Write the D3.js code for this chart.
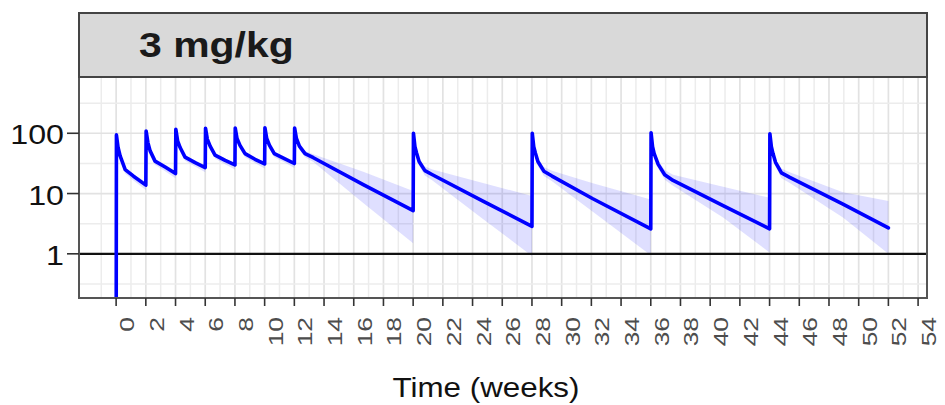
<!DOCTYPE html>
<html>
<head>
<meta charset="utf-8">
<script src="https://cdn.jsdelivr.net/npm/d3@7"></script>
<style>
  html, body { margin: 0; padding: 0; background: #fff; }
  svg { display: block; }
  text { font-family: "Liberation Sans", Arial, sans-serif; }
</style>
</head>
<body>
<svg id="chart" width="945" height="405"></svg>
<script>
// ---------------- data ----------------
const panelLabel = "3 mg/kg";
const xTitle = "Time (weeks)";

const weeks = [
  0, 0.02, 0.13, 0.27, 0.61, 1.17, 2.0,
  2.02, 2.14, 2.29, 2.62, 3.3, 4.0,
  4.02, 4.14, 4.31, 4.64, 5.32, 6.0,
  6.02, 6.14, 6.33, 6.66, 7.34, 8.0,
  8.02, 8.14, 8.34, 8.68, 9.35, 10.0,
  10.02, 10.14, 10.32, 10.65, 11.33, 12.0,
  12.02, 12.14, 12.34, 12.72, 13.28, 16.64, 20.0,
  20.02, 20.12, 20.23, 20.4, 20.79, 21.3, 24.7, 28.0,
  28.02, 28.12, 28.23, 28.4, 28.8, 29.35, 32.1, 36.0,
  36.02, 36.12, 36.23, 36.5, 36.94, 37.5, 40.87, 44.0,
  44.02, 44.12, 44.23, 44.4, 44.8, 45.36, 48.94, 52.0
];
const median = [
  0.01, 94, 58, 42, 25, 19.4, 13.8,
  109, 70, 51, 34.5, 27.5, 21.5,
  116, 75, 58, 40.3, 32.5, 27,
  121, 80, 61, 43.5, 35.5, 29.8,
  122, 82, 63, 46, 37, 31,
  123, 82, 63.5, 46, 38, 31.5,
  122, 82, 61, 46, 39.3, 14.1, 5.2,
  100, 60, 47, 34, 24, 20.5, 7.5, 2.85,
  100, 60, 47, 34, 23.5, 19.5, 8.2, 2.6,
  102, 60, 46, 30.5, 20.5, 16.5, 6.3, 2.6,
  98, 60, 46, 33, 22, 18.5, 6.7, 2.7
];
const lower = [
  0.01, 86, 52, 37, 21.5, 16.5, 11.5,
  100, 63, 45, 30, 23.5, 18,
  107, 67, 51, 35, 28, 22.5,
  112, 72, 54, 38, 30.5, 25,
  113, 74, 56, 40, 32, 26,
  114, 74, 56, 40, 33, 26.5,
  113, 74, 54, 40, 33.5, 7.0, 1.5,
  92, 53, 41, 29, 20, 16.5, 3.8, 0.92,
  92, 53, 41, 29, 19.5, 16, 5.0, 0.95,
  94, 53, 40, 26, 17, 13.5, 4.0, 1.05,
  90, 53, 40, 28, 18, 15, 4.0, 1.0
];
const upper = [
  0.01, 100, 62, 45, 27, 21, 15.5,
  116, 75, 55, 37, 30, 23.5,
  124, 80, 62, 43, 35, 29,
  128, 86, 66, 47, 38, 32,
  129, 88, 68, 50, 40, 33.5,
  130, 88, 68, 50, 41, 34,
  130, 90, 67, 51, 45, 23, 11,
  108, 66, 52, 38, 28, 25, 15, 9.1,
  108, 66, 52, 38, 27.5, 24, 14.8, 8.0,
  110, 66, 51, 35, 24.5, 20.5, 13, 8.5,
  106, 66, 51, 37, 26, 22.5, 10.5, 7.5
];

const xTickValues = [0,2,4,6,8,10,12,14,16,18,20,22,24,26,28,30,32,34,36,38,40,42,44,46,48,50,52,54];
const xMinorValues = [-1,1,3,5,7,9,11,13,15,17,19,21,23,25,27,29,31,33,35,37,39,41,43,45,47,49,51,53];
const yTickValues = [1, 10, 100];
const yTickLabels = ["1", "10", "100"];
const yMinorValues = [0.316, 3.16, 31.6, 316];
const refLine = 1;

// ---------------- layout ----------------
const L = 79, R = 927, stripTop = 13, stripBot = 77, T = 77, B = 298;

const svg = d3.select("#chart");
const x = d3.scaleLinear().domain([-2.5, 54.6]).range([L, R]);
const y = d3.scaleLog().domain([0.185, 858]).range([B, T]);

// panel background
svg.append("rect").attr("x", L).attr("y", T).attr("width", R - L).attr("height", B - T)
  .attr("fill", "#fff");

// grid
const grid = svg.append("g");
grid.selectAll(".vmin").data(xMinorValues).join("line")
  .attr("x1", d => x(d)).attr("x2", d => x(d)).attr("y1", T).attr("y2", B)
  .attr("stroke", "#ececec").attr("stroke-width", 1.5);
grid.selectAll(".vmaj").data(xTickValues.filter(d => x(d) < R)).join("line")
  .attr("x1", d => x(d)).attr("x2", d => x(d)).attr("y1", T).attr("y2", B)
  .attr("stroke", "#e2e2e2").attr("stroke-width", 1.7);
grid.selectAll(".hmin").data(yMinorValues).join("line")
  .attr("x1", L).attr("x2", R).attr("y1", d => y(d)).attr("y2", d => y(d))
  .attr("stroke", "#ececec").attr("stroke-width", 1.5);
grid.selectAll(".hmaj").data(yTickValues).join("line")
  .attr("x1", L).attr("x2", R).attr("y1", d => y(d)).attr("y2", d => y(d))
  .attr("stroke", "#e2e2e2").attr("stroke-width", 1.7);

// clip
svg.append("clipPath").attr("id", "clip").append("rect")
  .attr("x", L).attr("y", T).attr("width", R - L).attr("height", B - T);

const rows = weeks.map((w, i) => ({ w, m: median[i], lo: lower[i], hi: upper[i] }));

const plot = svg.append("g").attr("clip-path", "url(#clip)");

// ribbon
plot.append("path").datum(rows)
  .attr("fill", "rgba(40,40,255,0.15)")
  .attr("d", d3.area().x(d => x(d.w)).y0(d => y(d.lo)).y1(d => y(d.hi)));

// reference line at 1
plot.append("line").attr("x1", L).attr("x2", R)
  .attr("y1", y(refLine)).attr("y2", y(refLine))
  .attr("stroke", "#111").attr("stroke-width", 2.4);

// median line
plot.append("path").datum(rows)
  .attr("fill", "none").attr("stroke", "#0000ff").attr("stroke-width", 3.6)
  .attr("stroke-linejoin", "round").attr("stroke-linecap", "round")
  .attr("d", d3.line().x(d => x(d.w)).y(d => y(d.m)));

// panel border
svg.append("rect").attr("x", L).attr("y", T).attr("width", R - L).attr("height", B - T)
  .attr("fill", "none").attr("stroke", "#555").attr("stroke-width", 2);

// strip
svg.append("rect").attr("x", L).attr("y", stripTop).attr("width", R - L).attr("height", stripBot - stripTop)
  .attr("fill", "#d9d9d9").attr("stroke", "#444").attr("stroke-width", 2);
svg.append("text").attr("transform", "translate(139,57) scale(1.17,1)")
  .attr("font-size", 35).attr("font-weight", "bold").attr("fill", "#1a1a1a")
  .text(panelLabel);

// y axis
const yAxis = svg.append("g");
yAxis.selectAll("line").data(yTickValues).join("line")
  .attr("x1", L - 12).attr("x2", L).attr("y1", d => y(d)).attr("y2", d => y(d))
  .attr("stroke", "#333").attr("stroke-width", 1.6);
yAxis.selectAll("text").data(yTickValues).join("text")
  .attr("transform", d => `translate(64,${y(d) + 11}) scale(1.15,1)`)
  .attr("text-anchor", "end").attr("font-size", 28).attr("fill", "#111")
  .text((d, i) => yTickLabels[i]);

// x axis
const xAxis = svg.append("g");
xAxis.selectAll("line").data(xTickValues).join("line")
  .attr("x1", d => x(d)).attr("x2", d => x(d)).attr("y1", B).attr("y2", B + 8)
  .attr("stroke", "#333").attr("stroke-width", 1.6);
xAxis.selectAll("text").data(xTickValues).join("text")
  .attr("transform", d => `translate(${x(d) + 18},317) rotate(-90) scale(1.2,0.9)`)
  .attr("text-anchor", "end").attr("font-size", 22).attr("fill", "#4d4d4d")
  .text(d => String(d));

// x title
svg.append("text").attr("transform", "translate(486,397) scale(1.12,1)")
  .attr("text-anchor", "middle").attr("font-size", 28).attr("fill", "#111")
  .text(xTitle);
</script>
</body>
</html>
